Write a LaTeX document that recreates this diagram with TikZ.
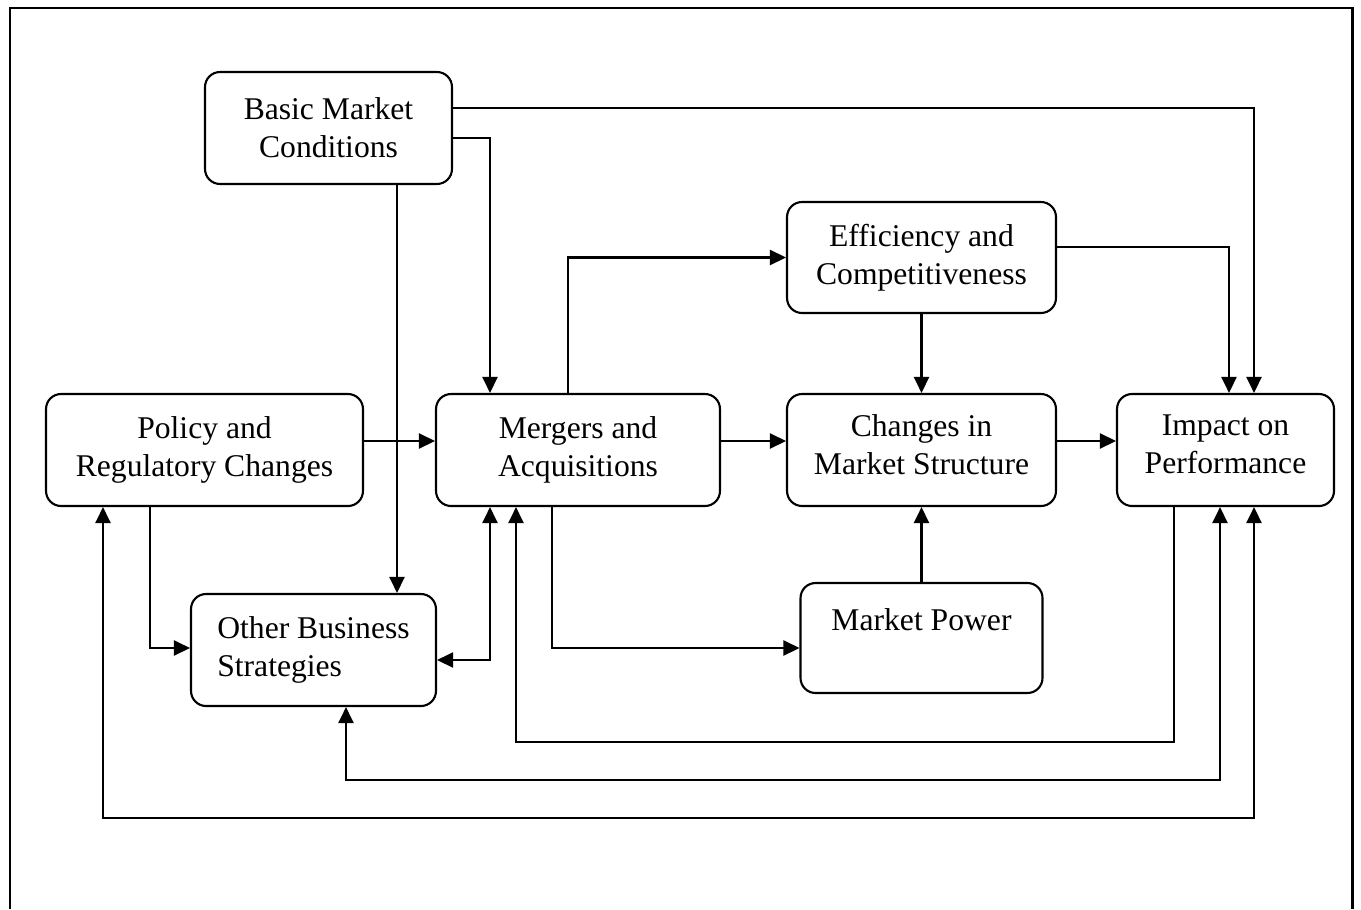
\documentclass[tikz,border=0pt]{standalone}
\usepackage{fontspec}
\setmainfont{Liberation Serif}
\usetikzlibrary{arrows.meta}
\begin{document}
\begin{tikzpicture}[x=0.02cm,y=-0.02cm,
    box/.style={draw,rounded corners=0.3cm,line width=1.2pt,inner sep=0pt,
      minimum height=2.24cm,align=center,font=\fontsize{18}{21.6}\selectfont},
    arr/.style={line width=1.3pt,-{Triangle[length=0.32cm,width=0.3cm]}},
    arrs/.style={line width=1.3pt,{Triangle[length=0.32cm,width=0.3cm]}-{Triangle[length=0.32cm,width=0.3cm]}}]
    \useasboundingbox (0,0) rectangle (1361,909);
    \draw[line width=1.7pt] (10,909) -- (10,8) -- (1352,8) -- (1352,909);
    \node[box,minimum width=4.94cm] (basic) at (328.5,128) {Basic Market\\Conditions};
    \node[box,minimum width=5.38cm,minimum height=2.22cm] (eff) at (921.5,257.5) {Efficiency and\\Competitiveness};
    \node[box,minimum width=6.34cm] (policy) at (204.5,450) {Policy and\\Regulatory Changes};
    \node[box,minimum width=5.68cm] (merg) at (578,450) {Mergers and\\Acquisitions};
    \node[box,minimum width=5.38cm] (changes) at (921.5,450) {Changes in\\Market Structure\strut};
    \node[box,minimum width=4.34cm] (impact) at (1225.5,450) {Impact on\\Performance\strut};
    \node[box,minimum width=4.9cm,align=left] (other) at (313.5,650) {Other Business\\Strategies};
    \node[box,minimum width=4.84cm,minimum height=2.2cm] (power) at (921.5,638) {Market Power\\~};
    \draw[arr] (basic.east |- 0,108) -| (impact.north -| 1254,0);
    \draw[arr] (basic.east |- 0,138) -| (merg.north -| 490,0);
    \draw[arr] (basic.south -| 397,0) -- (other.north -| 397,0);
    \draw[arr] (eff.east |- 0,247) -| (impact.north -| 1229,0);
    \draw[arr] (eff) -- (changes);
    \draw[arr] (merg.north -| 568,0) |- (eff.west);
    \draw[arr] (policy.east |- 0,441) -- (merg.west |- 0,441);
    \draw[arr] (merg.east |- 0,441) -- (changes.west |- 0,441);
    \draw[arr] (changes.east |- 0,441) -- (impact.west |- 0,441);
    \draw[arr] (power) -- (changes);
    \draw[arr] (policy.south -| 150,0) |- (other.west |- 0,648);
    \draw[arr] (merg.south -| 552,0) |- (power.west |- 0,648);
    \draw[arrs] (merg.south -| 490,0) |- (other.east |- 0,660);
    \draw[arr] (impact.south -| 1174,0) |- (516,742) -- (merg.south -| 516,0);
    \draw[arrs] (other.south -| 346,0) |- (1220,780) -- (impact.south -| 1220,0);
    \draw[arrs] (policy.south -| 103,0) |- (1254,818) -- (impact.south -| 1254,0);
\end{tikzpicture}
\end{document}
